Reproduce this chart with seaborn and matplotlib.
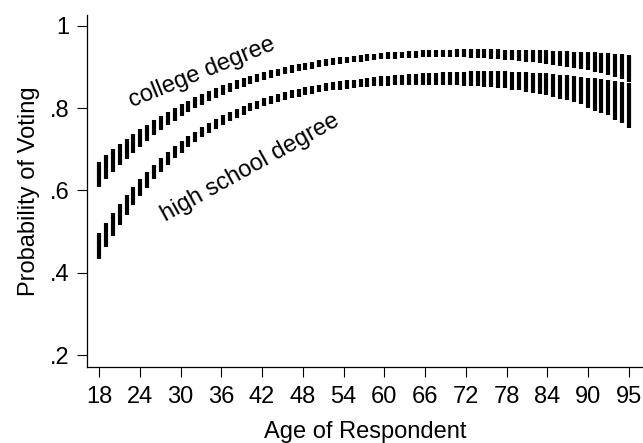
import numpy as np
import pandas as pd
import matplotlib
matplotlib.use('Agg')
import matplotlib.pyplot as plt
import seaborn as sns

sns.set_theme(style='ticks')
plt.rcParams['font.family'] = ['Liberation Sans', 'DejaVu Sans']
plt.rcParams['text.color'] = 'black'

# --- data: one interval per year of age ---
ages = list(range(18, 96))

college_high = [
    .670, .686, .700, .713, .725, .737, .749, .760, .771, .781,
    .791, .800, .809, .818, .826, .834, .841, .848, .855, .861,
    .867, .873, .878, .883, .888, .892, .896, .900, .904, .907,
    .910, .913, .916, .919, .921, .923, .925, .927, .929, .931,
    .932, .934, .935, .936, .937, .938, .939, .940, .941, .941,
    .942, .942, .943, .943, .943, .943, .943, .943, .943, .942,
    .942, .942, .941, .941, .940, .940, .939, .939, .938, .937,
    .937, .936, .935, .934, .933, .932, .931, .929]
college_low = [
    .609, .628, .645, .661, .676, .691, .706, .720, .734, .746,
    .758, .769, .780, .790, .799, .808, .816, .824, .832, .839,
    .846, .852, .858, .863, .869, .873, .878, .882, .886, .890,
    .893, .896, .899, .902, .905, .907, .909, .911, .913, .915,
    .916, .918, .919, .920, .921, .921, .922, .923, .924, .923,
    .924, .923, .924, .923, .922, .922, .921, .920, .919, .917,
    .916, .915, .913, .912, .909, .908, .905, .903, .900, .897,
    .895, .892, .888, .884, .880, .875, .870, .863]

hs_high = [
    .496, .521, .545, .567, .588, .608, .627, .645, .662, .678,
    .693, .707, .720, .732, .743, .754, .764, .773, .782, .790,
    .798, .805, .812, .818, .824, .829, .834, .839, .843, .847,
    .851, .854, .857, .860, .863, .865, .867, .869, .871, .873,
    .875, .877, .878, .880, .881, .882, .883, .884, .885, .886,
    .887, .887, .888, .888, .889, .889, .889, .889, .889, .889,
    .888, .888, .887, .886, .885, .884, .883, .881, .880, .878,
    .876, .874, .872, .870, .868, .865, .863, .860]
hs_low = [
    .433, .462, .490, .516, .541, .564, .586, .607, .627, .645,
    .662, .678, .692, .705, .717, .729, .740, .750, .760, .768,
    .777, .784, .792, .798, .804, .810, .815, .820, .824, .828,
    .832, .835, .838, .841, .843, .845, .847, .848, .850, .851,
    .853, .854, .854, .855, .856, .856, .856, .856, .856, .856,
    .856, .855, .855, .854, .854, .853, .852, .851, .849, .848,
    .845, .843, .840, .837, .834, .831, .827, .823, .819, .814,
    .809, .800, .794, .788, .782, .771, .763, .751]

x_tick_labels = ['18', '24', '30', '36', '42', '48', '54', '60',
                 '66', '72', '78', '84', '90', '95']
y_ticks = [.2, .4, .6, .8, 1]
y_tick_labels = ['.2', '.4', '.6', '.8', '1']

df = pd.DataFrame({
    'age': ages * 2,
    'low': college_low + hs_low,
    'high': college_high + hs_high,
    'group': ['college degree'] * len(ages) + ['high school degree'] * len(ages),
})

fig = plt.figure(figsize=(6.43, 4.43), dpi=100)
ax = fig.add_axes([0.1353, 0.1716, 0.8647, 0.7946])

for name, sub in df.groupby('group'):
    ax.vlines(sub['age'], sub['low'], sub['high'], color='black', linewidth=3.0)

ax.set_xlim(16.26, 97.03)
ax.set_ylim(0.1713, 1.026)

ax.set_xticks(np.linspace(18, 95, len(x_tick_labels)))
ax.set_xticklabels(x_tick_labels)
ax.set_yticks(y_ticks)
ax.set_yticklabels(y_tick_labels)
ax.tick_params(axis='both', direction='out', length=7.5, width=0.8,
               labelsize=17, color='black', labelcolor='black')
ax.tick_params(axis='x', pad=6)
ax.tick_params(axis='y', pad=5)

ax.set_xlabel('Age of Respondent', fontsize=17, labelpad=9.5, color='black')
ax.set_ylabel('Probability of Voting', fontsize=17, labelpad=7, color='black')

# curve labels written along the bands
ax.text(33.0, 0.886, 'college degree', rotation=22, fontsize=17,
        ha='center', va='center', rotation_mode='anchor')
ax.text(40.0, 0.655, 'high school degree', rotation=29, fontsize=17,
        ha='center', va='center', rotation_mode='anchor')

sns.despine(ax=ax)
for side in ['left', 'bottom']:
    ax.spines[side].set_linewidth(0.9)
    ax.spines[side].set_color('black')

fig.savefig('out.png', dpi=100)
